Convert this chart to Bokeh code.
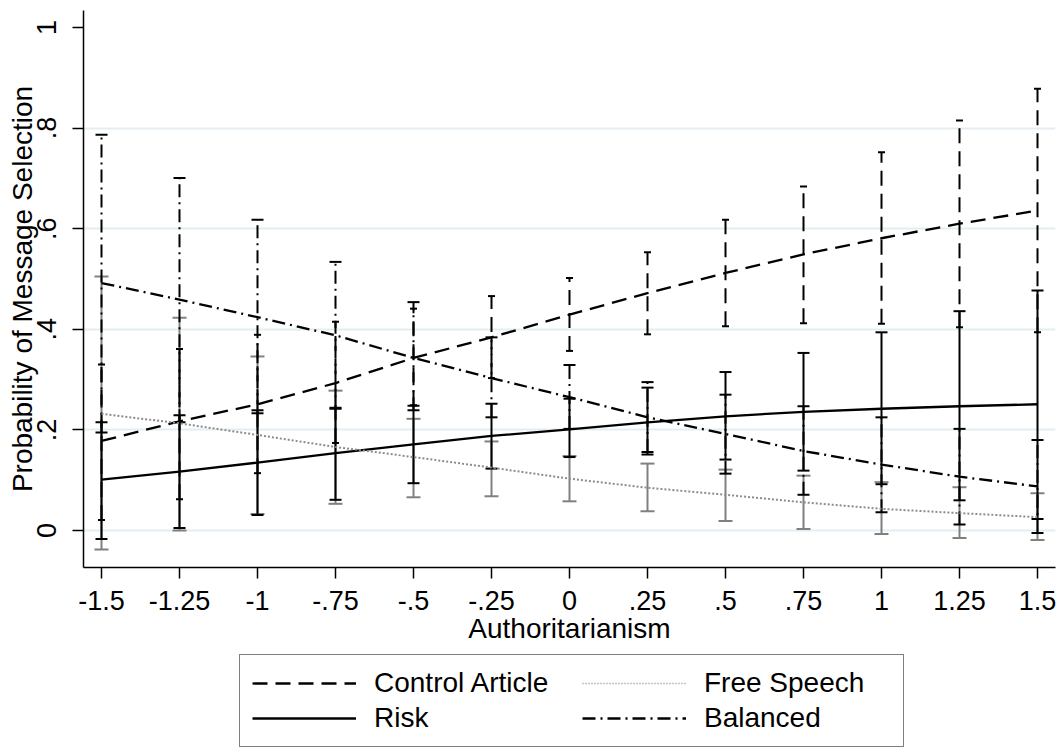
from bokeh.plotting import figure
from bokeh.layouts import column
from bokeh.models import Range1d, FixedTicker, Legend, LegendItem, ColumnDataSource
from bokeh.embed import file_html
from bokeh.resources import INLINE

# ---- data ----
authoritarianism = [-1.5, -1.25, -1, -0.75, -0.5, -0.25, 0, 0.25, 0.5, 0.75, 1, 1.25, 1.5]
x_tick_labels = ["-1.5", "-1.25", "-1", "-.75", "-.5", "-.25", "0", ".25", ".5", ".75", "1", "1.25", "1.5"]
y_ticks = [0, 0.2, 0.4, 0.6, 0.8, 1]
y_tick_labels = ["0", ".2", ".4", ".6", ".8", "1"]

control_mean = [0.178, 0.217, 0.251, 0.293, 0.343, 0.384, 0.429, 0.472, 0.512, 0.549, 0.581, 0.610, 0.636]
control_lo = [0.021, 0.062, 0.114, 0.174, 0.249, 0.303, 0.357, 0.390, 0.406, 0.412, 0.411, 0.404, 0.394]
control_hi = [0.330, 0.361, 0.389, 0.415, 0.441, 0.466, 0.502, 0.553, 0.618, 0.684, 0.752, 0.815, 0.878]

risk_mean = [0.101, 0.117, 0.135, 0.154, 0.171, 0.188, 0.201, 0.215, 0.227, 0.236, 0.242, 0.247, 0.251]
risk_lo = [-0.017, 0.005, 0.031, 0.061, 0.094, 0.123, 0.146, 0.151, 0.141, 0.119, 0.092, 0.060, 0.023]
risk_hi = [0.215, 0.229, 0.239, 0.244, 0.248, 0.252, 0.262, 0.284, 0.315, 0.353, 0.394, 0.436, 0.477]

free_mean = [0.232, 0.213, 0.190, 0.166, 0.146, 0.125, 0.103, 0.085, 0.071, 0.056, 0.043, 0.0345, 0.0265]
free_lo = [-0.038, 0.000, 0.033, 0.053, 0.066, 0.068, 0.058, 0.038, 0.019, 0.003, -0.007, -0.015, -0.019]
free_hi = [0.505, 0.423, 0.346, 0.278, 0.222, 0.177, 0.148, 0.133, 0.121, 0.109, 0.096, 0.086, 0.074]

balanced_mean = [0.492, 0.459, 0.424, 0.388, 0.343, 0.303, 0.265, 0.225, 0.192, 0.158, 0.131, 0.107, 0.0875]
balanced_lo = [0.195, 0.215, 0.233, 0.242, 0.239, 0.225, 0.202, 0.156, 0.113, 0.071, 0.036, 0.012, -0.005]
balanced_hi = [0.787, 0.701, 0.618, 0.534, 0.454, 0.384, 0.329, 0.295, 0.270, 0.247, 0.225, 0.202, 0.180]

series_names = ["Control Article", "Risk", "Free Speech", "Balanced"]

FONT = "Liberation Sans"
GRAY = "#808080"
DOT_GRAY = "#8c8c8c"
DASH = "15 8"
DASHDOT = "13 5 2 5"
DOT = "2 2"

p = figure(width=1058, height=650, output_backend="svg", toolbar_location=None,
           x_range=Range1d(-1.55769, 1.55769), y_range=Range1d(-0.0736, 1.0338),
           min_border_left=83, min_border_right=3, min_border_top=10, min_border_bottom=83)
p.outline_line_color = None
p.background_fill_color = "white"
p.border_fill_color = "white"

# axes
p.xaxis.ticker = FixedTicker(ticks=authoritarianism)
p.xaxis.major_label_overrides = {v: s for v, s in zip(authoritarianism, x_tick_labels)}
p.yaxis.ticker = FixedTicker(ticks=y_ticks)
p.yaxis.major_label_overrides = {v: s for v, s in zip(y_ticks, y_tick_labels)}
p.yaxis.major_label_orientation = "vertical"
p.xaxis.axis_label = "Authoritarianism"
p.yaxis.axis_label = "Probability of Message Selection"
for ax in (p.xaxis, p.yaxis):
    ax.axis_line_color = "black"
    ax.axis_line_width = 1.5
    ax.major_tick_line_color = "black"
    ax.major_tick_line_width = 1.5
    ax.major_tick_out = 11
    ax.major_tick_in = 0
    ax.minor_tick_line_color = None
    ax.major_label_text_font = FONT
    ax.major_label_text_font_size = "27px"
    ax.major_label_text_color = "black"
    ax.axis_label_text_font = FONT
    ax.axis_label_text_font_size = "28px"
    ax.axis_label_text_font_style = "normal"
    ax.axis_label_text_color = "black"
p.xaxis.major_label_standoff = 12
p.xaxis.axis_label_standoff = 0
p.yaxis.major_label_standoff = 16
p.yaxis.axis_label_standoff = -3

p.xgrid.visible = False
p.ygrid.ticker = FixedTicker(ticks=[0, 0.2, 0.4, 0.6, 0.8])
p.ygrid.grid_line_color = "#e4edf2"
p.ygrid.grid_line_width = 2

src = ColumnDataSource(dict(
    x=authoritarianism,
    c_m=control_mean, c_lo=control_lo, c_hi=control_hi,
    r_m=risk_mean, r_lo=risk_lo, r_hi=risk_hi,
    f_m=free_mean, f_lo=free_lo, f_hi=free_hi,
    b_m=balanced_mean, b_lo=balanced_lo, b_hi=balanced_hi,
))

# confidence intervals
def ci(lo, hi, color, dash, cap):
    p.segment(x0="x", y0=lo, x1="x", y1=hi, source=src, line_color=color,
              line_width=2, line_dash=dash)
    p.scatter(x="x", y=lo, source=src, marker="dash", size=cap, line_color=color, line_width=2)
    p.scatter(x="x", y=hi, source=src, marker="dash", size=cap, line_color=color, line_width=2)

ci("f_lo", "f_hi", GRAY, "solid", 14)
ci("r_lo", "r_hi", "black", "solid", 12)
ci("b_lo", "b_hi", "black", DASHDOT, 12)
ci("c_lo", "c_hi", "black", DASH, 7)

# predicted probability lines
p.line("x", "c_m", source=src, line_color="black", line_width=2.3, line_dash=DASH)
p.line("x", "r_m", source=src, line_color="black", line_width=2.3)
p.line("x", "f_m", source=src, line_color=DOT_GRAY, line_width=2, line_dash=DOT)
p.line("x", "b_m", source=src, line_color="black", line_width=2.3, line_dash=DASHDOT)

# ---- legend panel (below the plot) ----
q = figure(width=1058, height=99, output_backend="svg", toolbar_location=None,
           x_axis_type=None, y_axis_type=None, x_range=Range1d(0, 1), y_range=Range1d(0, 1),
           min_border=0)
q.outline_line_color = None
q.grid.visible = False
nan_src = ColumnDataSource(dict(x=[float("nan")], y=[float("nan")]))
g_ctrl = q.line("x", "y", source=nan_src, line_color="black", line_width=2.3, line_dash=DASH)
g_risk = q.line("x", "y", source=nan_src, line_color="black", line_width=2.3)
g_free = q.line("x", "y", source=nan_src, line_color=DOT_GRAY, line_width=1.5, line_dash="1 2")
g_bal = q.line("x", "y", source=nan_src, line_color="black", line_width=2.3, line_dash=DASHDOT)

def style(lg, label_width, border):
    lg.label_text_font = FONT
    lg.label_text_font_size = "28px"
    lg.label_text_color = "black"
    lg.glyph_width = 104
    lg.glyph_height = 24
    lg.label_height = 24
    lg.label_width = label_width
    lg.label_standoff = 18
    lg.padding = 12
    lg.spacing = 3
    lg.margin = 0
    if border:
        lg.border_line_color = "black"
        lg.border_line_width = 1.5
        lg.background_fill_color = "white"
        lg.background_fill_alpha = 1
    else:
        lg.border_line_color = None
        lg.background_fill_alpha = 0

leg_a = Legend(items=[LegendItem(label=series_names[0], renderers=[g_ctrl]),
                      LegendItem(label=series_names[1], renderers=[g_risk])],
               orientation="vertical", location=(156, 2))
style(leg_a, 663 - 24 - 122, True)
leg_b = Legend(items=[LegendItem(label=series_names[2], renderers=[g_free]),
                      LegendItem(label=series_names[3], renderers=[g_bal])],
               orientation="vertical", location=(499, 15))
style(leg_b, 150, False)
q.add_layout(leg_a)
q.add_layout(leg_b)

open("out.html", "w").write(file_html(column(p, q), INLINE))
